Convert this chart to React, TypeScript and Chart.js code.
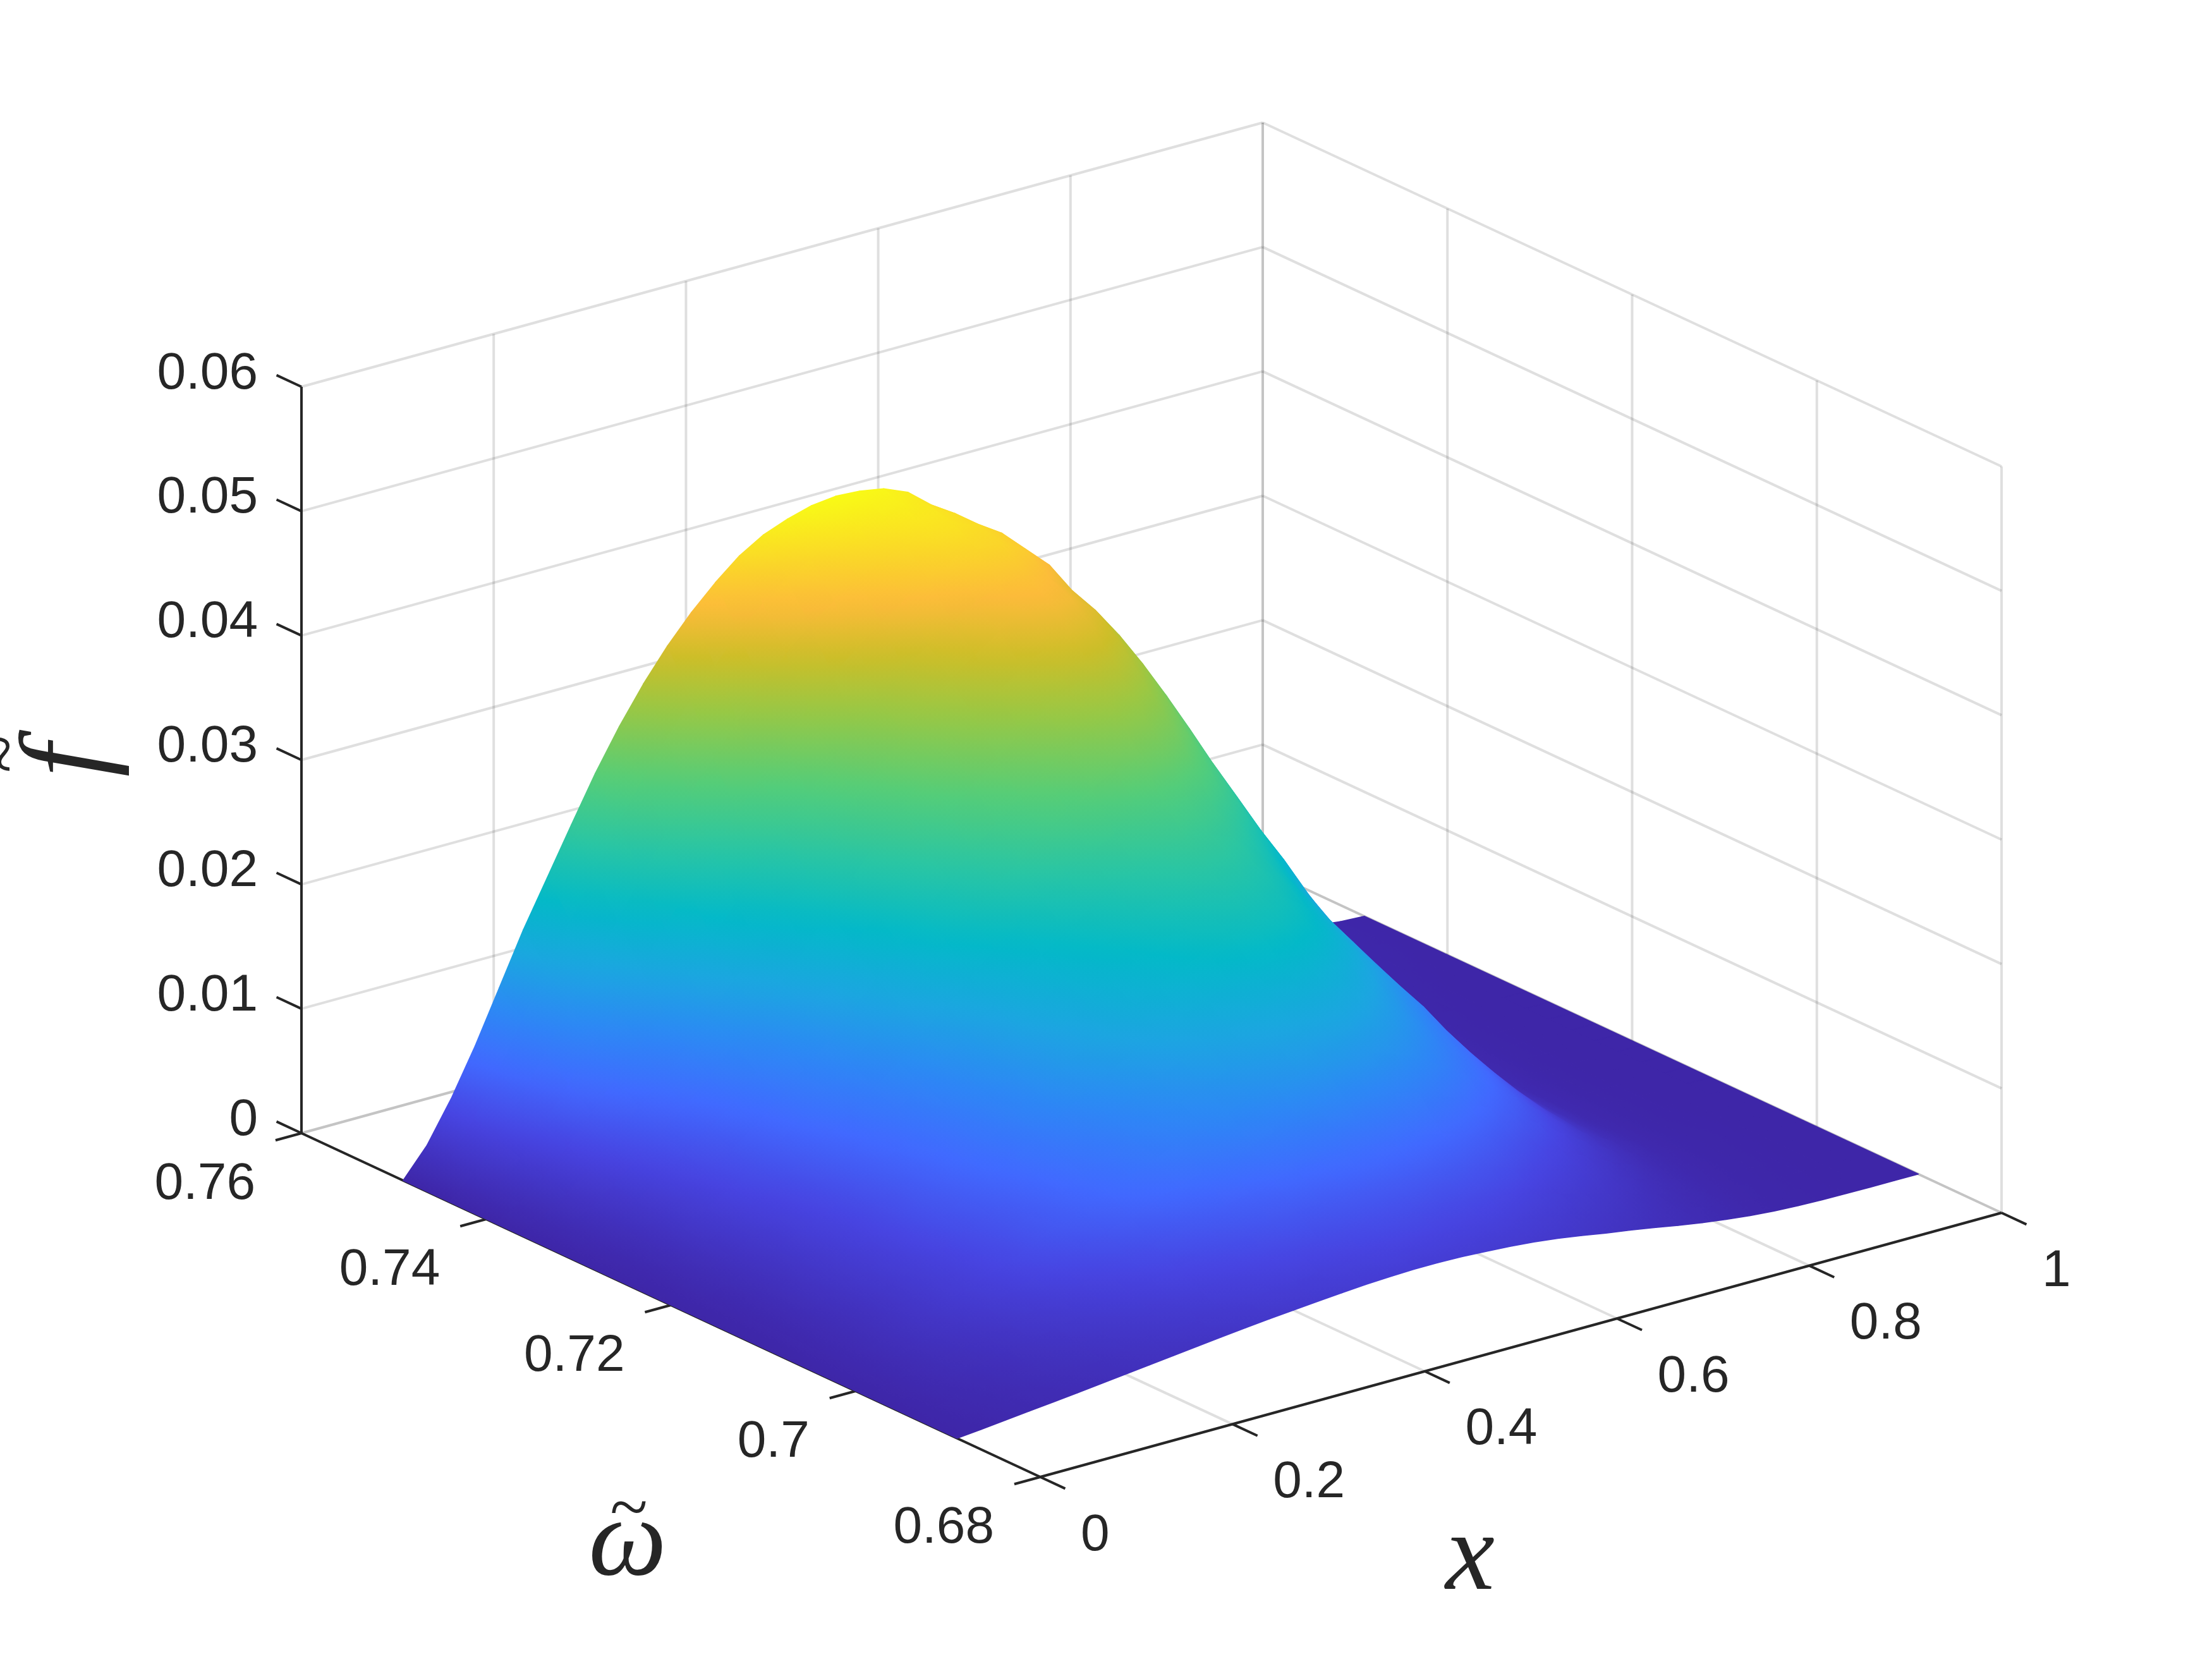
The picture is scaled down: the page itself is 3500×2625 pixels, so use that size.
import React, { useEffect, useRef } from "react";
import { Chart, registerables } from "chart.js";
Chart.register(...registerables);

const xValues = [0,.025,.05,.075,.1,.125,.15,.175,.2,.225,.25,.275,.3,.325,.35,.375,.4,.425,.45,.475,.5,.525,.55,.575,.6,.625,.65,.675,.7,.725,.75,.775,.8,.825,.85,.875,.9,.925,.95,.975,1];
const omegaValues = [.689,.6915,.694,.6965,.699,.7015,.704,.7065,.709,.7115,.714,.7165,.719,.7215,.724,.7265,.729,.7315,.734,.7365,.739,.7415,.744,.7465,.749];
// f values in units of 1e-5: one row per omega, one column per x
const fRows = [
[0,18,39,59,79,99,121,143,165,186,208,230,251,270,287,304,319,333,343,349,350,345,334,321,304,280,250,216,186,154,118,87,60,38,22,12,6,3,1,1,0],
[0,21,46,70,94,118,145,171,198,225,253,280,306,330,353,374,393,411,425,434,437,432,421,406,386,355,318,276,237,196,151,109,74,46,26,14,7,3,2,1,0],
[0,25,55,84,113,143,175,208,242,275,309,344,377,408,438,465,491,514,533,546,551,549,537,520,495,456,409,355,305,253,194,140,93,57,32,17,8,4,2,1,0],
[0,30,66,101,137,174,213,255,297,340,382,426,469,510,549,585,618,650,675,694,703,703,693,673,642,592,532,463,398,330,252,181,118,71,38,20,10,5,2,1,0],
[0,34,76,118,162,207,255,306,359,411,465,520,575,629,680,728,772,813,847,873,890,895,887,866,827,766,689,600,516,427,326,232,149,86,44,23,11,5,2,1,0],
[0,39,87,138,191,247,304,367,434,499,566,636,707,777,844,907,965,1020,1066,1104,1131,1144,1142,1118,1071,993,895,781,672,556,424,299,188,105,52,26,12,6,2,1,0],
[0,41,94,151,212,276,341,413,492,569,648,731,817,902,986,1063,1135,1202,1261,1310,1348,1372,1377,1354,1300,1207,1089,953,820,678,517,362,223,121,56,28,13,6,2,1,0],
[0,38,91,151,215,283,350,429,515,598,686,778,875,973,1070,1160,1244,1322,1392,1452,1503,1540,1557,1537,1479,1376,1244,1091,939,776,590,410,247,129,55,27,11,5,2,1,0],
[0,37,90,153,222,294,365,449,543,633,728,830,938,1047,1156,1258,1352,1440,1519,1590,1652,1699,1726,1709,1646,1533,1388,1218,1049,867,658,455,270,137,56,27,11,4,1,0,0],
[0,38,94,161,236,314,389,481,583,682,786,897,1016,1138,1258,1371,1476,1574,1663,1742,1814,1869,1903,1887,1819,1695,1535,1348,1161,959,728,502,296,148,59,28,11,4,1,0,0],
[0,37,94,165,245,328,409,507,618,725,839,961,1092,1227,1362,1488,1606,1715,1815,1906,1990,2057,2101,2088,2015,1879,1703,1497,1289,1065,808,555,324,159,60,28,10,4,1,0,0],
[0,36,93,167,249,336,419,521,638,751,870,999,1139,1283,1427,1562,1687,1804,1912,2010,2103,2179,2230,2219,2143,2000,1814,1595,1374,1135,861,590,342,165,60,28,10,3,0,0,0],
[0,39,99,178,266,358,446,555,680,800,927,1065,1213,1367,1520,1664,1798,1923,2037,2143,2242,2322,2377,2365,2284,2132,1933,1700,1464,1209,917,629,365,176,64,30,10,4,1,0,0],
[0,41,105,189,282,380,474,590,722,850,984,1131,1288,1451,1614,1767,1909,2041,2163,2275,2380,2466,2524,2511,2425,2263,2053,1805,1554,1284,974,667,387,187,68,31,11,4,1,0,0],
[0,45,114,205,306,413,514,640,784,922,1068,1227,1398,1575,1752,1918,2072,2215,2348,2469,2583,2676,2739,2725,2632,2456,2228,1959,1687,1393,1057,724,420,202,74,34,12,4,1,0,0],
[0,49,127,227,339,457,569,708,868,1021,1183,1358,1548,1744,1940,2123,2294,2453,2599,2734,2860,2963,3032,3017,2914,2719,2466,2168,1868,1543,1170,802,465,224,82,38,13,4,1,0,0],
[0,53,137,245,366,494,615,766,938,1103,1278,1468,1673,1885,2096,2294,2479,2650,2809,2954,3090,3201,3277,3260,3149,2939,2665,2343,2018,1667,1265,867,503,242,88,41,14,5,1,0,0],
[0,61,156,277,414,556,691,857,1045,1225,1415,1618,1837,2062,2287,2496,2690,2870,3036,3187,3328,3442,3517,3495,3373,3147,2853,2509,2163,1789,1362,940,552,273,106,50,19,7,2,0,0],
[0,72,182,322,478,640,793,978,1185,1381,1586,1803,2035,2271,2506,2723,2924,3108,3277,3430,3572,3684,3753,3722,3588,3346,3033,2667,2302,1909,1463,1020,611,314,132,64,26,10,3,1,0],
[0,87,217,380,562,750,926,1131,1358,1572,1791,2019,2259,2500,2738,2956,3154,3336,3500,3645,3779,3880,3934,3890,3742,3486,3159,2779,2402,2002,1549,1097,679,369,171,86,37,16,6,1,0],
[0,108,265,458,673,893,1097,1327,1575,1807,2038,2274,2514,2752,2984,3192,3376,3544,3693,3820,3934,4013,4040,3974,3812,3546,3212,2826,2450,2055,1614,1171,756,439,226,117,54,24,9,3,0],
[0,134,326,559,818,1081,1322,1586,1863,2119,2368,2614,2857,3094,3319,3516,3686,3838,3968,4073,4163,4214,4208,4115,3933,3652,3306,2909,2531,2140,1710,1274,859,532,297,157,76,35,14,4,0],
[0,166,399,678,987,1299,1582,1882,2189,2469,2734,2985,3224,3448,3657,3832,3975,4099,4197,4268,4321,4332,4280,4154,3951,3661,3310,2914,2547,2177,1778,1368,970,640,384,207,103,48,20,6,0],
[0,199,476,801,1162,1525,1851,2187,2522,2824,3101,3353,3582,3789,3975,4120,4229,4319,4380,4409,4419,4384,4280,4118,3896,3600,3252,2864,2516,2177,1821,1449,1078,752,477,260,132,62,27,8,0],
[0,231,551,923,1335,1748,2116,2486,2848,3172,3460,3712,3930,4117,4279,4394,4468,4523,4545,4533,4499,4418,4261,4063,3822,3522,3178,2800,2474,2167,1857,1526,1183,862,568,313,161,77,34,10,0],
];
const fUnit = 1e-5;
const fMax = 0.0455;

const xTicks = [0, .2, .4, .6, .8, 1];
const xTickLabels = ["0", "0.2", "0.4", "0.6", "0.8", "1"];
const omegaTicks = [.68, .7, .72, .74, .76];
const omegaTickLabels = ["0.68", "0.7", "0.72", "0.74", "0.76"];
const fTicks = [0, .01, .02, .03, .04, .05, .06];
const fTickLabels = ["0", "0.01", "0.02", "0.03", "0.04", "0.05", "0.06"];

const W = 3500, H = 2625;
const proj = (x: number, om: number, f: number) => {
  const w = (om - .68) / .08;
  return { x: 1646 + 1521 * x - 1169 * w, y: 2337 - 418 * x - 544 * w - 19683 * f };
};

const stops: [number, number[]][] = [
  [0, [62, 38, 168]], [.1, [71, 68, 225]], [.18, [65, 105, 255]], [.26, [45, 135, 245]], [.34, [28, 165, 225]],
  [.43, [3, 185, 200]], [.52, [40, 197, 165]], [.62, [85, 205, 120]], [.72, [150, 200, 70]], [.8, [205, 190, 40]],
  [.87, [252, 187, 58]], [.93, [250, 215, 40]], [1, [249, 251, 21]],
];
const parula = (t: number) => {
  t = Math.max(0, Math.min(1, t));
  for (let i = 1; i < stops.length; i++) {
    if (t <= stops[i][0]) {
      const [a, ca] = stops[i - 1], [b, cb] = stops[i];
      const k = (t - a) / (b - a);
      return `rgb(${ca.map((v, n) => Math.round(v + (cb[n] - v) * k)).join(",")})`;
    }
  }
  return "rgb(249,251,21)";
};

const quadPaint = (chart: any, pts: { x: number; y: number }[], fs: number[]) => {
  const fmin = Math.min(...fs), fmax = Math.max(...fs);
  if (fmax - fmin < 1e-6 || !chart.chartArea) return parula((fmin + fmax) / 2 / fMax);
  const n = pts.length;
  const cx = pts.reduce((s, p) => s + p.x, 0) / n, cy = pts.reduce((s, p) => s + p.y, 0) / n, cf = fs.reduce((s, v) => s + v, 0) / n;
  let sxx = 0, syy = 0, sxy = 0, sxf = 0, syf = 0;
  pts.forEach((p, i) => {
    const dx = p.x - cx, dy = p.y - cy, df = fs[i] - cf;
    sxx += dx * dx; syy += dy * dy; sxy += dx * dy; sxf += dx * df; syf += dy * df;
  });
  const det = sxx * syy - sxy * sxy;
  if (Math.abs(det) < 1e-6) return parula(cf / fMax);
  const gx = (syy * sxf - sxy * syf) / det, gy = (sxx * syf - sxy * sxf) / det;
  const g2 = gx * gx + gy * gy;
  if (g2 < 1e-14) return parula(cf / fMax);
  const sx = chart.scales.x, sy = chart.scales.y;
  const p = (f: number) => ({ x: sx.getPixelForValue(cx + gx * (f - cf) / g2), y: sy.getPixelForValue(cy + gy * (f - cf) / g2) });
  const a = p(fmin), b = p(fmax);
  const g = chart.ctx.createLinearGradient(a.x, a.y, b.x, b.y);
  for (let k = 0; k <= 4; k++) g.addColorStop(k / 4, parula((fmin + (fmax - fmin) * k / 4) / fMax));
  return g;
};

const buildSurface = () => {
  const sets: any[] = [];
  for (let j = 0; j < omegaValues.length - 1; j++) {
    for (let i = 0; i < xValues.length - 1; i++) {
      const idx = [[i, j], [i + 1, j], [i + 1, j + 1], [i, j + 1]];
      const fs = idx.map(([a, b]) => fRows[b][a] * fUnit);
      const pts = idx.map(([a, b]) => proj(xValues[a], omegaValues[b], fRows[b][a] * fUnit));
      const paint = (c: any) => (c.type === "dataset" ? quadPaint(c.chart, pts, fs) : "transparent");
      sets.push({ data: [...pts, pts[0]], showLine: true, fill: "shape", backgroundColor: paint, borderColor: paint, borderWidth: 1.5, borderJoinStyle: "round", pointRadius: 0, tension: 0 });
    }
  }
  return sets;
};

const seg = (a: any, b: any, color: string, width: number) => ({ data: [a, b], showLine: true, fill: false, borderColor: color, borderWidth: width, pointRadius: 0, tension: 0 });
const GRID = "rgba(38,38,38,0.15)", AXIS = "#262626";
const buildFrame = () => {
  const axis: any[] = [], grid: any[] = [];
  const x0 = 0, x1 = 1, w0 = .68, w1 = .76, f1 = .06;
  fTicks.forEach((f) => {
    grid.push(seg(proj(x0, w1, f), proj(x1, w1, f), GRID, 4));
    grid.push(seg(proj(x1, w1, f), proj(x1, w0, f), GRID, 4));
  });
  xTicks.forEach((x) => {
    grid.push(seg(proj(x, w1, 0), proj(x, w1, f1), GRID, 4));
    grid.push(seg(proj(x, w0, 0), proj(x, w1, 0), GRID, 4));
  });
  omegaTicks.forEach((w) => {
    grid.push(seg(proj(x1, w, 0), proj(x1, w, f1), GRID, 4));
    grid.push(seg(proj(x0, w, 0), proj(x1, w, 0), GRID, 4));
  });
  axis.push(seg(proj(x0, w0, 0), proj(x1, w0, 0), AXIS, 4));
  axis.push(seg(proj(x0, w0, 0), proj(x0, w1, 0), AXIS, 4));
  axis.push(seg(proj(x0, w1, 0), proj(x0, w1, f1), AXIS, 4));
  xTicks.forEach((x) => axis.push(seg(proj(x, w0, 0), proj(x, w0 - .0027, 0), AXIS, 4)));
  omegaTicks.forEach((w) => axis.push(seg(proj(x0, w, 0), proj(x0 - .027, w, 0), AXIS, 4)));
  fTicks.forEach((f) => axis.push(seg(proj(x0, w1, f), proj(x0, w1 + .0027, f), AXIS, 4)));
  return [...axis, ...grid];
};

const labels = {
  id: "labels",
  afterDraw(chart: any) {
    const { ctx, scales } = chart;
    const px = (p: { x: number; y: number }) => ({ x: scales.x.getPixelForValue(p.x), y: scales.y.getPixelForValue(p.y) });
    ctx.save();
    ctx.fillStyle = AXIS;
    ctx.font = '82px "Liberation Sans"';
    ctx.textBaseline = "middle";
    ctx.textAlign = "right";
    fTicks.forEach((f, i) => { const p = px(proj(0, .76, f)); ctx.fillText(fTickLabels[i], p.x - 69, p.y - 20); });
    omegaTicks.forEach((w, i) => { const p = px(proj(0, w, 0)); ctx.fillText(omegaTickLabels[i], p.x - 73, p.y + 81); });
    ctx.textAlign = "left";
    xTicks.forEach((x, i) => { const p = px(proj(x, .68, 0)); ctx.fillText(xTickLabels[i], p.x + 64, p.y + 93); });
    ctx.textAlign = "center";
    ctx.font = 'italic 175px "Liberation Serif"';
    ctx.fillText("x", 2326, 2468);
    ctx.fillText("\u03C9", 993, 2445);
    ctx.font = '110px "Liberation Serif"';
    ctx.fillText("~", 995, 2392);
    ctx.translate(113, 1203);
    ctx.rotate(-Math.PI / 2);
    ctx.font = 'italic 190px "Liberation Serif"';
    ctx.fillText("f", 0, 0);
    ctx.font = '110px "Liberation Serif"';
    ctx.fillText("~", 10, -100);
    ctx.restore();
  },
};

export default function App() {
  const ref = useRef<HTMLCanvasElement>(null);
  useEffect(() => {
    const chart = new Chart(ref.current!, {
      type: "scatter",
      data: { datasets: [...buildSurface(), ...buildFrame()] },
      options: {
        animation: false, responsive: false, events: [],
        layout: { padding: 0 },
        plugins: { legend: { display: false }, tooltip: { enabled: false }, title: { display: false } },
        scales: {
          x: { type: "linear", min: 0, max: W, display: false },
          y: { type: "linear", min: 0, max: H, reverse: true, display: false },
        },
      },
      plugins: [labels],
    } as any);
    return () => chart.destroy();
  }, []);
  return <canvas ref={ref} width={W} height={H} style={{ position: "absolute", left: 0, top: 0, width: W, height: H, background: "#fff" }} />;
}
